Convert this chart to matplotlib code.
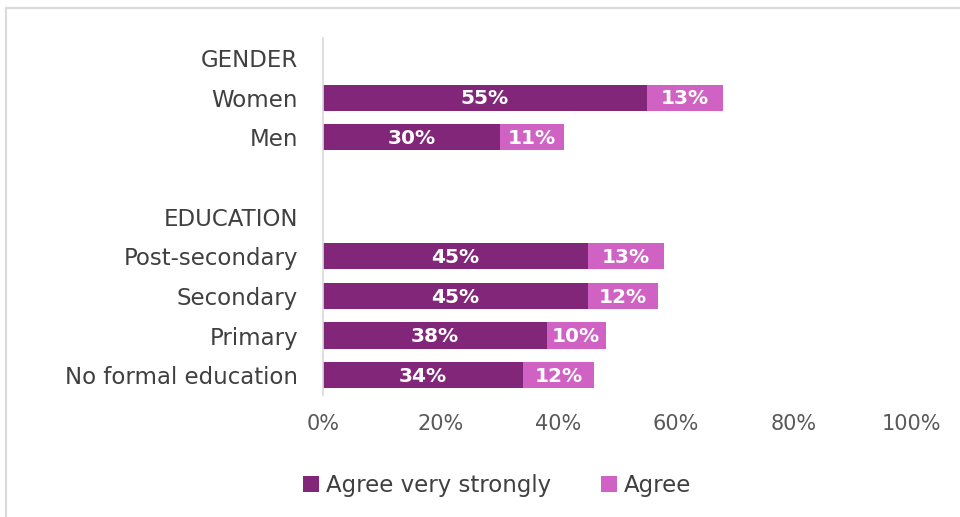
import matplotlib.pyplot as plt
from matplotlib.patches import Rectangle

plt.rcParams['font.family'] = ['DejaVu Sans']

# categories top to bottom, blanks are the group headers / spacer
labels = ['GENDER', 'Women', 'Men', '', 'EDUCATION',
          'Post-secondary', 'Secondary', 'Primary', 'No formal education']
very_strongly = [None, 55, 30, None, None, 45, 45, 38, 34]
agree = [None, 13, 11, None, None, 13, 12, 10, 12]
series_names = ['Agree very strongly', 'Agree']

dark = '#82267A'
light = '#D062C4'
txt = '#404040'

fig = plt.figure(figsize=(9.6, 5.17), dpi=100)
ax = fig.add_axes([0.3365, 0.236, 0.613, 0.69])

ypos = list(range(len(labels)))[::-1]
v1 = [v if v is not None else 0 for v in very_strongly]
v2 = [v if v is not None else 0 for v in agree]

b1 = ax.barh(ypos, v1, height=0.66, color=dark, label=series_names[0])
b2 = ax.barh(ypos, v2, left=v1, height=0.66, color=light, label=series_names[1])

for y, a, b in zip(ypos, very_strongly, agree):
    if a is None:
        continue
    ax.text(a / 2, y - 0.03, f'{a}%', ha='center', va='center',
            color='white', fontsize=14.5, fontweight='bold')
    ax.text(a + b / 2, y - 0.03, f'{b}%', ha='center', va='center',
            color='white', fontsize=14.5, fontweight='bold')

ax.set_xlim(0, 100)
ax.set_ylim(-0.5, len(labels) - 0.5)
ax.set_yticks(ypos)
ax.set_yticklabels(labels, fontsize=16.5, color=txt)
ax.set_xticks(range(0, 101, 20))
ax.set_xticklabels([f'{t}%' for t in range(0, 101, 20)], fontsize=15, color='#595959')
ax.tick_params(axis='y', length=0, pad=18)
ax.tick_params(axis='x', length=0, pad=14)
for s in ['top', 'right', 'bottom']:
    ax.spines[s].set_visible(False)
ax.spines['left'].set_color('#D9D9D9')
ax.spines['left'].set_linewidth(1.2)

fig.legend(handles=[b1, b2], loc='center', bbox_to_anchor=(0.518, 0.06),
           ncol=2, frameon=False, fontsize=16.5, handlelength=0.7,
           handleheight=0.7, columnspacing=2.2, handletextpad=0.3,
           labelcolor=txt)

# outer chart border (top/left visible)
fig.patches.append(Rectangle((6 / 960, -0.1), 1.2, (517 - 8) / 517 + 0.1,
                             transform=fig.transFigure, fill=False,
                             edgecolor='#D9D9D9', linewidth=1.5))

fig.savefig('out.png', dpi=100)
